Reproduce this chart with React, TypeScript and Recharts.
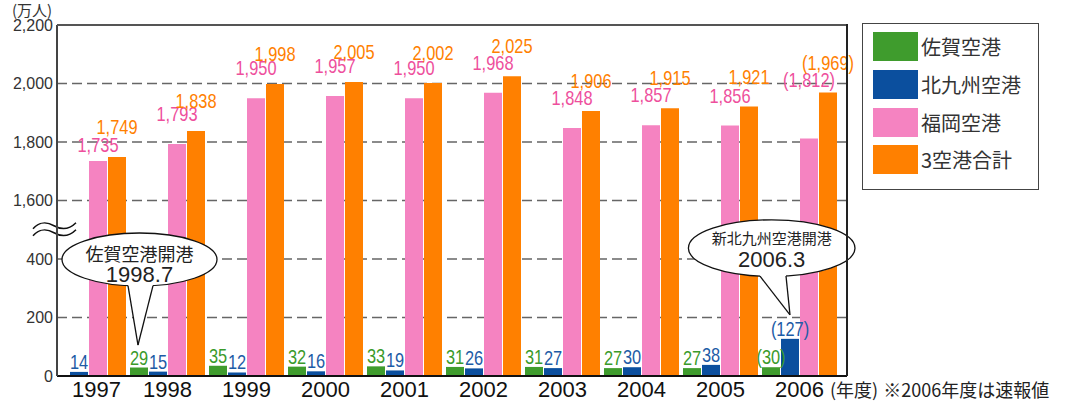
import React from "react";
import {
  BarChart,
  Bar,
  XAxis,
  YAxis,
  CartesianGrid,
  LabelList,
  ReferenceDot,
  ReferenceLine,
} from "recharts";

const years = ["1997", "1998", "1999", "2000", "2001", "2002", "2003", "2004", "2005", "2006"];
const saga = [null, 29, 35, 32, 33, 31, 31, 27, 27, 30];
const kitakyushu = [14, 15, 12, 16, 19, 26, 27, 30, 38, 127];
const fukuoka = [1735, 1793, 1950, 1957, 1950, 1968, 1848, 1857, 1856, 1812];
const total = [1749, 1838, 1998, 2005, 2002, 2025, 1906, 1915, 1921, 1969];
// 2006 figures are preliminary (shown in brackets)
const preliminary = [false, false, false, false, false, false, false, false, false, true];

const seriesNames = ["佐賀空港", "北九州空港", "福岡空港", "3空港合計"];
const yTicks = [0, 200, 400, 1600, 1800, 2000, 2200];

const barColors = ["#3f9c2d", "#0b4f9e", "#f583c1", "#ff8000"];
const labelColors = ["#3a9a2a", "#1d5ba6", "#ee4f9c", "#ff8000"];

const SANS = '"Liberation Sans", Arial, sans-serif';
const JP = '"Noto Sans CJK JP", "Noto Sans", sans-serif';

// broken axis: 400 .. 1600 is squeezed into one 200-step gap
const CUT = 1000;
const squash = (v: number | null) => (v == null ? null : v >= 1600 ? v - CUT : v);
const unsquash = (t: number) => (t > 500 ? t + CUT : t);

// chart layout
const W = 1067;
const H = 401;
const MARGIN = { top: 25, right: 220, left: 7, bottom: 0 };
const X_AXIS_H = 25;
const Y_AXIS_W = 50;
const PLOT_LEFT = MARGIN.left + Y_AXIS_W;
const PLOT_BOTTOM = H - MARGIN.bottom - X_AXIS_H;
const PLOT_W = W - MARGIN.left - MARGIN.right - Y_AXIS_W;
// bands are shifted left a little, like the original layout
const PAD = 8;

const fmt = (v: number | null, pre: boolean) => {
  if (v == null) return "";
  const s = v.toLocaleString("en-US");
  return pre ? `(${s})` : s;
};

const rows = years.map((year, i) => ({
  year,
  saga: saga[i],
  kita: kitakyushu[i],
  fuku: squash(fukuoka[i]),
  total: squash(total[i]),
  sagaLabel: fmt(saga[i], preliminary[i]),
  kitaLabel: fmt(kitakyushu[i], preliminary[i]),
  fukuLabel: fmt(fukuoka[i], preliminary[i]),
  totalLabel: fmt(total[i], preliminary[i]),
}));

// narrow digits like the source: regular sans squeezed horizontally
const valueLabel = (color: string, lift: (year: string) => number) => (p: any) => {
  const { x, y, width, value, index } = p;
  if (value == null || value === "") return null;
  const tx = Number(x) + Number(width) / 2;
  const ty = Number(y) - lift(years[index]);
  return (
    <text
      transform={`translate(${tx},${ty}) scale(0.82,1)`}
      textAnchor="middle"
      fill={color}
      fontSize={20}
      fontFamily={SANS}
    >
      {value}
    </text>
  );
};

// fukuoka labels were nudged by hand in the original to dodge neighbours
const fukuLift = (year: string) => (year === "1997" ? 9 : year === "2006" ? 51 : 23);

const YearTick = (p: any) => {
  const { x, y, payload } = p;
  // 1997 has no Saga bar, its label sits over the three remaining bars
  const shift = payload.value === "1997" ? 8 : 0;
  return (
    <text x={x + shift} y={y + 21} textAnchor="middle" fontSize={22} fontFamily={SANS} fill="#111">
      {payload.value}
    </text>
  );
};

const BreakMark = (p: any) => {
  const x0 = Number(p.x1) - 24;
  const y = Number(p.y1);
  const wave = (yy: number) =>
    `M${x0},${yy + 3} C${x0 + 6},${yy - 4} ${x0 + 14},${yy - 4} ${x0 + 21},${yy} S${x0 + 36},${yy + 4} ${x0 + 43},${yy - 3}`;
  return (
    <g>
      <path d={wave(y - 4)} fill="none" stroke="#111" strokeWidth={1.5} />
      <path d={wave(y + 3)} fill="none" stroke="#111" strokeWidth={1.5} />
    </g>
  );
};

type CalloutProps = {
  ax: number;
  ay: number;
  ex: number;
  ey: number;
  rx: number;
  ry: number;
  bl: number;
  br: number;
  title: string;
  titleSize: number;
  titleDy: number;
  sub: string;
  subDy: number;
};

const Callout = ({ ax, ay, ex, ey, rx, ry, bl, br, title, titleSize, titleDy, sub, subDy }: CalloutProps) => {
  const cx = ax + ex;
  const cy = ay + ey;
  const edge = (x: number) => cy + ry * Math.sqrt(Math.max(0, 1 - ((x - cx) / rx) ** 2));
  const lx = ax + bl;
  const rxx = ax + br;
  const ly = edge(lx);
  const ry2 = edge(rxx);
  return (
    <g>
      <ellipse cx={cx} cy={cy} rx={rx} ry={ry} fill="#fff" stroke="#111" strokeWidth={1.3} />
      <polygon points={`${lx},${ly - 6} ${lx},${ly} ${ax},${ay} ${rxx},${ry2} ${rxx},${ry2 - 6}`} fill="#fff" />
      <line x1={lx} y1={ly} x2={ax} y2={ay} stroke="#111" strokeWidth={1.3} />
      <line x1={rxx} y1={ry2} x2={ax} y2={ay} stroke="#111" strokeWidth={1.3} />
      <text x={cx} y={ay + titleDy} textAnchor="middle" dominantBaseline="central" fontSize={titleSize} fontFamily={JP} fill="#222">
        {title}
      </text>
      <text x={cx} y={ay + subDy} textAnchor="middle" dominantBaseline="central" fontSize={22} fontFamily={SANS} fill="#222">
        {sub}
      </text>
    </g>
  );
};

export default function App() {
  return (
    <div style={{ position: "absolute", left: 0, top: 0, width: W, height: H, background: "#fff", fontFamily: JP }}>
      <BarChart width={W} height={H} data={rows} margin={MARGIN} barSize={18} barGap={1}>
        <CartesianGrid vertical={false} stroke="#666" strokeWidth={1.5} strokeDasharray="10 5" />
        <XAxis
          dataKey="year"
          interval={0}
          height={X_AXIS_H}
          tickSize={0}
          tickMargin={0}
          tickLine={false}
          tick={<YearTick />}
          padding={{ left: -PAD, right: PAD }}
          axisLine={{ stroke: "#111", strokeWidth: 2 }}
        />
        <YAxis
          width={Y_AXIS_W}
          domain={[0, 1200]}
          ticks={yTicks.map((t) => squash(t) as number)}
          interval={0}
          tickSize={0}
          tickMargin={4}
          tickLine={false}
          tickFormatter={(t: number) => unsquash(t).toLocaleString("en-US")}
          tick={{ fill: "#333", fontSize: 16, fontFamily: SANS }}
          axisLine={{ stroke: "#444", strokeWidth: 2 }}
        />
        <Bar dataKey="saga" name={seriesNames[0]} fill={barColors[0]} isAnimationActive={false}>
          <LabelList dataKey="sagaLabel" content={valueLabel(labelColors[0], () => 3)} />
        </Bar>
        <Bar dataKey="kita" name={seriesNames[1]} fill={barColors[1]} isAnimationActive={false}>
          <LabelList dataKey="kitaLabel" content={valueLabel(labelColors[1], () => 3)} />
        </Bar>
        <Bar dataKey="fuku" name={seriesNames[2]} fill={barColors[2]} isAnimationActive={false}>
          <LabelList dataKey="fukuLabel" content={valueLabel(labelColors[2], fukuLift)} />
        </Bar>
        <Bar dataKey="total" name={seriesNames[3]} fill={barColors[3]} isAnimationActive={false}>
          <LabelList dataKey="totalLabel" content={valueLabel(labelColors[3], () => 23)} />
        </Bar>
        <ReferenceLine y={500} stroke="none" shape={(p: any) => <BreakMark {...p} />} />
        <ReferenceDot
          x="1998"
          y={saga[1] as number}
          shape={(p: any) => (
            <Callout
              ax={p.cx - 29.5}
              ay={p.cy - 22.5}
              ex={1.5}
              ey={-85.5}
              rx={77.5}
              ry={26.5}
              bl={-10}
              br={15}
              title="佐賀空港開港"
              titleSize={18}
              titleDy={-92}
              sub="1998.7"
              subDy={-71}
            />
          )}
        />
        <ReferenceDot
          x="2006"
          y={kitakyushu[9]}
          shape={(p: any) => (
            <Callout
              ax={p.cx - 9.5}
              ay={p.cy - 24}
              ex={-18.3}
              ey={-66.7}
              rx={83.3}
              ry={28.3}
              bl={-30}
              br={-4}
              title="新北九州空港開港"
              titleSize={15}
              titleDy={-77}
              sub="2006.3"
              subDy={-55}
            />
          )}
        />
      </BarChart>

      {/* top and right edges of the plot frame */}
      <div
        style={{
          position: "absolute",
          zIndex: 2,
          left: PLOT_LEFT,
          top: MARGIN.top - 1,
          width: PLOT_W + 1,
          height: 2,
          background: "#555",
        }}
      />
      <div
        style={{
          position: "absolute",
          zIndex: 2,
          left: PLOT_LEFT + PLOT_W - 1,
          top: MARGIN.top - 1,
          width: 2,
          height: PLOT_BOTTOM - MARGIN.top + 1,
          background: "#222",
        }}
      />

      <div style={{ position: "absolute", left: 12, top: 2, fontSize: 15, lineHeight: "15px", color: "#333", whiteSpace: "nowrap" }}>
        (万人)
      </div>

      <div
        style={{
          position: "absolute",
          left: 862,
          top: 23,
          width: 177,
          height: 167,
          boxSizing: "border-box",
          border: "1.5px solid #444",
          background: "#fff",
        }}
      >
        {seriesNames.map((name, i) => (
          <div
            key={name}
            style={{ position: "absolute", left: 9.5, top: 8 + i * 37.8, height: 29, display: "flex", alignItems: "center" }}
          >
            <div style={{ width: 45.5, height: 29, background: barColors[i] }} />
            <span style={{ marginLeft: 3, fontSize: 20, color: "#333", whiteSpace: "nowrap" }}>{name}</span>
          </div>
        ))}
      </div>

      <div style={{ position: "absolute", left: 830, top: 376, fontSize: 18, color: "#222", whiteSpace: "nowrap" }}>
        <span>(年度)</span>
        <span style={{ marginLeft: 5 }}>※2006年度は速報値</span>
      </div>
    </div>
  );
}
